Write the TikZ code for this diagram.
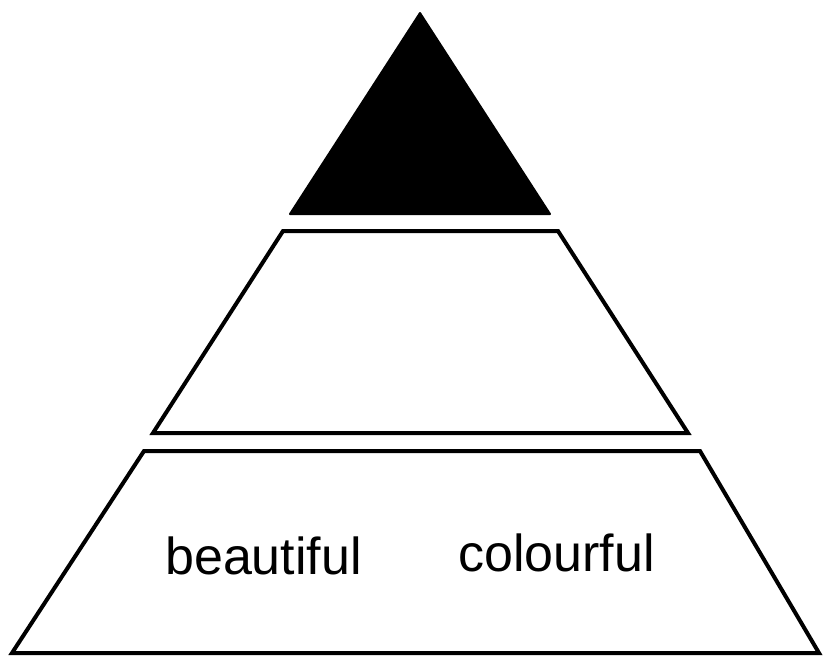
\documentclass[tikz,border=0pt]{standalone}
\usepackage{fontspec}
\setmainfont{Liberation Sans}
\begin{document}
\begin{tikzpicture}[x=1pt,y=-1pt,
  tier/.style={draw=black,line width=4pt,line join=miter,fill=white},
  apexstyle/.style={draw=black,fill=black,line width=2pt,line join=round},
  word/.style={anchor=base west,inner sep=0pt,font=\fontsize{52}{60}\selectfont}]
\useasboundingbox (0,0) rectangle (823,657);
\fill[white] (0,0) rectangle (823,657);
\draw[apexstyle] (420,13) -- (550,214) -- (290,214) -- cycle;
\draw[tier] (283,231) -- (558,231) -- (688,433) -- (153,433) -- cycle;
\draw[tier] (144,451) -- (700,451) -- (819,653) -- (12,653) -- cycle;
\node[word] (b) at (165,574) {beautiful};
\node[word] (c) at (458,571) {colourful};
\end{tikzpicture}
\end{document}
